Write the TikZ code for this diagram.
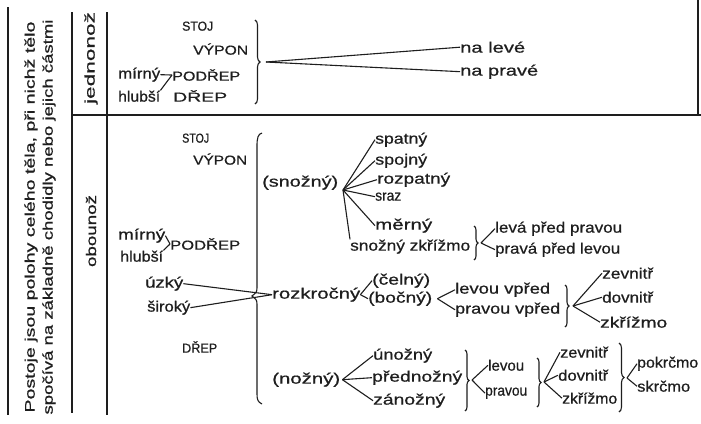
\documentclass[tikz,border=0pt]{standalone}
\usepackage{fontspec}
\setmainfont{Liberation Sans}
\newfontfamily\hand{Liberation Sans}[FakeBold=0.6]
\usetikzlibrary{decorations.pathreplacing}
\definecolor{ink}{HTML}{1E1E1E}
\newcommand\fw[2]{\resizebox{#1pt}{\height}{#2}}
\begin{document}
\begin{tikzpicture}[x=1pt,y=-1pt,
  every node/.style={inner sep=0pt,text=ink},
  txt/.style={font=\hand\fontsize{15}{17}\selectfont,anchor=mid west},
  caps/.style={font=\hand\fontsize{13}{15}\selectfont,anchor=mid west},
  vtxt/.style={font=\hand\fontsize{14}{16}\selectfont,rotate=90},
  ln/.style={draw=ink,line width=1.1pt},
  rule/.style={draw=ink,line width=1.5pt},
  brc/.style={ln,decorate,decoration={brace,amplitude=#1}}]
\useasboundingbox (0,0) rectangle (701,423);
\fill[white] (0,0) rectangle (701,423);

% frame rules
\draw[rule] (8,7) -- (8,415);
\draw[rule] (72,12) -- (72,413);
\draw[rule] (107,12) -- (107,415);
\draw[rule] (72,115) -- (701,115);
\draw[rule] (698,0) -- (698,115);

% vertical texts
\node[vtxt] (title1) at (31,217) {\fw{391}{Postoje jsou polohy celého těla, při nichž tělo}};
\node[vtxt] (title2) at (49,217) {\fw{395}{spočívá na základně chodidly nebo jejich částmi}};
\node[vtxt] (jedno) at (91,58) {\fw{92}{jednonož}};
\node[vtxt] (obou) at (91,231) {\fw{72}{obounož}};

% ---- jednonož
\node[caps] (stojA) at (182,28) {\fw{31}{STOJ}};
\node[caps] (vyponA) at (193,52) {\fw{55}{VÝPON}};
\node[txt] (mirnyA) at (118,76) {\fw{42}{mírný}};
\node[caps] (podrepA) at (172,78) {\fw{68}{PODŘEP}};
\node[txt] (hlubsiA) at (118,99) {\fw{42}{hlubší}};
\node[caps] (drepA) at (173,99) {\fw{54}{DŘEP}};
\draw[ln] (mirnyA.east) -- (podrepA.west);
\draw[ln] (hlubsiA.north east) -- (podrepA.west);
\draw[brc=5pt] (255,20) -- (255,104);
\coordinate (tipA) at (266,62);
\node[txt] (nalevo) at (460,50) {\fw{65}{na levé}};
\node[txt] (napravo) at (460,73) {\fw{78}{na pravé}};
\draw[ln] (tipA) -- (nalevo.west);
\draw[ln] (tipA) -- (napravo.west);

% ---- obounož
\node[caps] (stojB) at (182,140) {\fw{27}{STOJ}};
\node[caps] (vyponB) at (193,162) {\fw{54}{VÝPON}};
\node[txt] (mirnyB) at (118,237) {\fw{47}{mírný}};
\node[caps] (podrepB) at (170,247) {\fw{70}{PODŘEP}};
\node[txt] (hlubsiB) at (120,259) {\fw{43}{hlubší}};
\draw[ln] (mirnyB.east) -- (podrepB.west);
\draw[ln] (hlubsiB.north east) -- (podrepB.west);
\node[txt] (uzky) at (145,285) {\fw{38}{úzký}};
\node[txt] (siroky) at (147,309) {\fw{43}{široký}};
\node[caps] (drepB) at (182,350) {\fw{35}{DŘEP}};

% big brace
\draw[ln] (262,133) .. controls (258,134) and (257,138) .. (257,146) -- (257,286)
  .. controls (257,292) .. (252,296) .. controls (257,300) .. (257,306) -- (257,394)
  .. controls (257,400) and (258,402) .. (262,404);

% snožný
\node[txt] (snozny) at (262,184) {\fw{76}{(snožný)}};
\coordinate (vS) at (343,190);
\node[txt] (spotny) at (375,141) {\fw{52}{spatný}};
\node[txt] (spojny) at (375,162) {\fw{52}{spojný}};
\node[txt] (rozpotny) at (377,181) {\fw{73}{rozpatný}};
\node[txt] (sraz) at (375,198) {\fw{26}{sraz}};
\node[txt] (merny) at (375,227) {\fw{57}{měrný}};
\node[txt] (snozzk) at (350,248) {\fw{120}{snožný zkřížmo}};
\foreach \t in {spotny,spojny,rozpotny,sraz,merny} \draw[ln] (vS) -- (\t.west);
\draw[ln] (vS) -- (snozzk.north west);
\draw[brc=4pt] (474,226) -- (474,260);
\coordinate (tipB) at (481,243);
\node[txt] (levapred) at (495,230) {\fw{127}{levá před pravou}};
\node[txt] (pravapred) at (495,251) {\fw{125}{pravá před levou}};
\draw[ln] (tipB) -- (levapred.west);
\draw[ln] (tipB) -- (pravapred.west);

% rozkročný
\node[txt] (rozk) at (272,296) {\fw{88}{rozkročný}};
\draw[ln] (uzky.east) -- (rozk.west);
\draw[ln] (siroky.east) -- (rozk.west);
\node[txt] (celny) at (372,282) {\fw{58}{(čelný)}};
\node[txt] (bocny) at (368,300) {\fw{64}{(bočný)}};
\draw[ln] (rozk.east) -- (celny.west);
\draw[ln] (rozk.east) -- (bocny.west);
\node[txt] (levouvpred) at (455,291) {\fw{95}{levou vpřed}};
\node[txt] (pravouvpred) at (455,311) {\fw{105}{pravou vpřed}};
\draw[ln] ([xshift=5pt]bocny.east) -- (levouvpred.west);
\draw[ln] ([xshift=5pt]bocny.east) -- (pravouvpred.west);
\draw[brc=4pt] (565,285) -- (565,327);
\coordinate (tipC) at (573,306);
\node[txt] (zevA) at (602,276) {\fw{51}{zevnitř}};
\node[txt] (dovA) at (602,300) {\fw{51}{dovnitř}};
\node[txt] (zkrA) at (600,325) {\fw{67}{zkřížmo}};
\draw[ln] (tipC) -- (zevA.west);
\draw[ln] (tipC) -- (dovA.west);
\draw[ln] (tipC) -- (zkrA.west);

% nožný
\node[txt] (nozny) at (272,381) {\fw{68}{(nožný)}};
\node[txt] (unozny) at (373,357) {\fw{59}{únožný}};
\node[txt] (prednozny) at (372,379) {\fw{90}{přednožný}};
\node[txt] (zanozny) at (373,402) {\fw{72}{zánožný}};
\draw[ln] ([xshift=2pt]nozny.east) -- (unozny.west);
\draw[ln] ([xshift=2pt]nozny.east) -- (prednozny.west);
\draw[ln] ([xshift=2pt]nozny.east) -- (zanozny.west);
\draw[brc=4pt] (465,350) -- (465,411);
\coordinate (tipD) at (472,380);
\node[txt] (levouB) at (488,368) {\fw{36}{levou}};
\node[txt] (pravouB) at (485,393) {\fw{42}{pravou}};
\draw[ln] (tipD) -- (levouB.west);
\draw[ln] (tipD) -- (pravouB.west);
\draw[brc=4pt] (537,358) -- (537,407);
\coordinate (tipE) at (544,382);
\node[txt] (zevB) at (560,355) {\fw{48}{zevnitř}};
\node[txt] (dovB) at (558,378) {\fw{50}{dovnitř}};
\node[txt] (zkrB) at (562,401) {\fw{55}{zkřížmo}};
\draw[ln] (tipE) -- (zevB.west);
\draw[ln] (tipE) -- (dovB.west);
\draw[ln] (tipE) -- (zkrB.west);
\draw[brc=5pt] (619,343) -- (619,412);
\coordinate (tipF) at (627,378);
\node[txt] (pokrcmo) at (637,365) {\fw{61}{pokrčmo}};
\node[txt] (skrcmo) at (637,389) {\fw{53}{skrčmo}};
\draw[ln] (tipF) -- (pokrcmo.west);
\draw[ln] (tipF) -- (skrcmo.west);
\end{tikzpicture}
\end{document}
